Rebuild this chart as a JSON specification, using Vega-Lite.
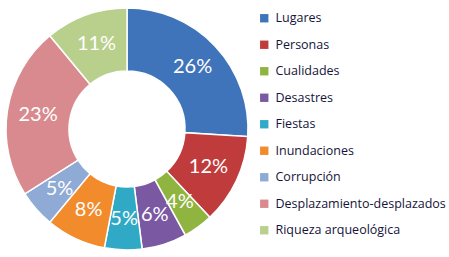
{
  "$schema": "https://vega.github.io/schema/vega-lite/v6.json",
  "autosize": "none",
  "width": 254,
  "height": 258,
  "padding": {"left": 0, "top": 0, "right": 195, "bottom": 0},
  "background": "white",
  "data": {"values": [
    {"cat": "Lugares", "pct": 26, "label": "26%", "ord": 1},
    {"cat": "Personas", "pct": 12, "label": "12%", "ord": 2},
    {"cat": "Cualidades", "pct": 4, "label": "4%", "ord": 3},
    {"cat": "Desastres", "pct": 6, "label": "6%", "ord": 4},
    {"cat": "Fiestas", "pct": 5, "label": "5%", "ord": 5},
    {"cat": "Inundaciones", "pct": 8, "label": "8%", "ord": 6},
    {"cat": "Corrupción", "pct": 5, "label": "5%", "ord": 7},
    {"cat": "Desplazamiento-desplazados", "pct": 23, "label": "23%", "ord": 8},
    {"cat": "Riqueza arqueológica", "pct": 11, "label": "11%", "ord": 9}
  ]},
  "encoding": {
    "theta": {"field": "pct", "type": "quantitative", "stack": true},
    "order": {"field": "ord", "type": "quantitative"}
  },
  "layer": [
    {
      "mark": {"type": "arc", "innerRadius": 58, "outerRadius": 121, "stroke": "white", "strokeWidth": 1.5},
      "encoding": {
        "color": {
          "field": "cat", "type": "nominal",
          "sort": ["Lugares", "Personas", "Cualidades", "Desastres", "Fiestas", "Inundaciones", "Corrupción", "Desplazamiento-desplazados", "Riqueza arqueológica"],
          "scale": {
            "domain": ["Lugares", "Personas", "Cualidades", "Desastres", "Fiestas", "Inundaciones", "Corrupción", "Desplazamiento-desplazados", "Riqueza arqueológica"],
            "range": ["#3f74bb", "#c03c3c", "#8fb540", "#7a58a2", "#30a9c6", "#f28b2c", "#90aad6", "#d98a8e", "#b9d08c"]
          },
          "legend": {
            "orient": "none",
            "legendX": 258,
            "legendY": 12,
            "title": null,
            "symbolType": "square",
            "symbolSize": 70,
            "symbolStrokeWidth": 0,
            "labelFont": "Open Sans",
            "labelFontSize": 12.5,
            "labelColor": "#14143a",
            "labelLimit": 200,
            "rowPadding": 13.5,
            "labelOffset": 5
          }
        }
      }
    },
    {
      "mark": {"type": "text", "radius": 90, "fontSize": 20, "font": "Lato", "color": "white"},
      "encoding": {
        "text": {"field": "label", "type": "nominal"},
        "detail": {"field": "cat"}
      }
    }
  ],
  "config": {"view": {"stroke": null}}
}
